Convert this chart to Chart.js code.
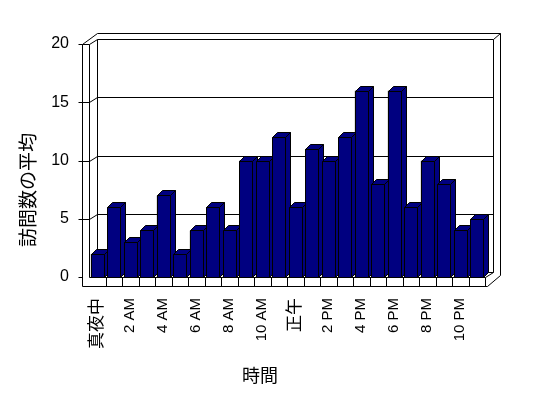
<!DOCTYPE html>
<html>
<head>
<meta charset="utf-8">
<script src="https://cdn.jsdelivr.net/npm/chart.js@4/dist/chart.umd.min.js"></script>
<style>
  body { margin: 0; background: #fff; }
</style>
</head>
<body>
<canvas id="chart_1" width="548" height="398"></canvas>
<script>
// hours of the day, only every other one gets a label
const hourLabels = ['真夜中','','2 AM','','4 AM','','6 AM','','8 AM','','10 AM','',
                    '正午','','2 PM','','4 PM','','6 PM','','8 PM','','10 PM',''];
const visits = [2,6,3,4,7,2,4,6,4,10,10,12,6,11,10,12,16,8,16,6,10,8,4,5];
const yMin = 0, yMax = 20, yStep = 5;
const xTitle = '時間';
const yTitle = '訪問数の平均';

const FONT = '"Liberation Sans", "Noto Sans CJK JP", sans-serif';
const NAVY = '#000080';

// 3d offsets
const D = {x: 8, y: -5};   // front plane -> back wall
const WT = {x: 7, y: -6};  // wall thickness
const BD = {x: 5, y: -5};  // bar depth

function line(ctx, x1, y1, x2, y2) {
    ctx.beginPath();
    ctx.moveTo(Math.round(x1) + 0.5, Math.round(y1) + 0.5);
    ctx.lineTo(Math.round(x2) + 0.5, Math.round(y2) + 0.5);
    ctx.stroke();
}
function poly(ctx, pts) {
    ctx.beginPath();
    pts.forEach((p, i) => i ? ctx.lineTo(p[0], p[1]) : ctx.moveTo(p[0], p[1]));
    ctx.closePath();
    ctx.fill();
    ctx.stroke();
}

const box3d = {
    id: 'box3d',
    beforeDatasetsDraw(chart) {
        const {ctx, chartArea: a, scales: {x, y}} = chart;
        const L = a.left, R = a.right;
        const T = y.getPixelForValue(yMax), B = y.getPixelForValue(yMin);
        const w = x.getPixelForValue(1) - x.getPixelForValue(0);
        ctx.save();
        ctx.strokeStyle = '#000';
        ctx.lineWidth = 1;

        // back wall
        line(ctx, L + D.x, T + D.y, R + D.x, T + D.y);
        line(ctx, L + D.x, T + D.y, L + D.x, B + D.y);
        line(ctx, R + D.x, T + D.y, R + D.x, B + D.y);
        line(ctx, L + D.x, B + D.y, R + D.x, B + D.y);

        // grid lines and ticks
        for (let v = yMin; v <= yMax; v += yStep) {
            const yy = y.getPixelForValue(v);
            line(ctx, L - 11, yy, L - 7, yy);
            if (v > yMin && v < yMax) {
                line(ctx, L - 7, yy, L, yy);
                line(ctx, L, yy, L + D.x, yy + D.y);
                line(ctx, L + D.x, yy + D.y, R + D.x, yy + D.y);
            }
        }

        // left wall
        line(ctx, L - 7, T, L - 7, B + 9);
        line(ctx, L, T, L, B);
        line(ctx, L - 7, T, L, T);
        line(ctx, L, T, L + D.x, T + D.y);
        line(ctx, L - 7, T, L + D.x, T + D.y + WT.y);

        // top + right edge of wall
        line(ctx, L + D.x, T + D.y + WT.y, R + D.x + WT.x, T + D.y + WT.y);
        line(ctx, R + D.x, T + D.y, R + D.x + WT.x, T + D.y + WT.y);
        line(ctx, R + D.x + WT.x, T + D.y + WT.y, R + D.x + WT.x, B + D.y + 3);

        // floor
        line(ctx, L, B, R, B);
        line(ctx, L - 7, B + 9, R + 2, B + 9);
        line(ctx, R, B, R + D.x, B + D.y);
        line(ctx, R + 2, B + 9, R + D.x + WT.x, B + D.y + 3);
        for (let i = 1; i <= hourLabels.length; i++) {
            const xx = L + i * w;
            line(ctx, xx, B, xx, B + 9);
        }
        ctx.restore();
    },
    afterDatasetsDraw(chart) {
        const {ctx} = chart;
        const meta = chart.getDatasetMeta(0);
        ctx.save();
        ctx.strokeStyle = '#000';
        ctx.fillStyle = NAVY;
        ctx.lineWidth = 1;
        meta.data.forEach(bar => {
            const p = bar.getProps(['x', 'y', 'base', 'width'], true);
            const l = Math.round(p.x - p.width / 2) + 0.5;
            const r = Math.round(p.x + p.width / 2) + 0.5;
            const t = Math.round(p.y) + 0.5;
            const b = Math.round(p.base) + 0.5;
            poly(ctx, [[l, t], [l + BD.x, t + BD.y], [r + BD.x, t + BD.y], [r, t]]);
            poly(ctx, [[r, t], [r + BD.x, t + BD.y], [r + BD.x, b + BD.y], [r, b]]);
            poly(ctx, [[l, t], [r, t], [r, b], [l, b]]);
        });
        ctx.restore();
    },
    afterDraw(chart) {
        const {ctx} = chart;
        ctx.save();
        ctx.fillStyle = '#000';
        ctx.textAlign = 'center';
        ctx.textBaseline = 'middle';
        ctx.font = '18px ' + FONT;
        ctx.fillText(xTitle, 260, 377);
        ctx.font = '19px ' + FONT;
        ctx.translate(30, 190);
        ctx.rotate(-Math.PI / 2);
        ctx.fillText(yTitle, 0, 0);
        ctx.restore();
    }
};

var chart1 = new Chart(document.getElementById('chart_1'), {
    type: 'bar',
    data: {
        labels: hourLabels,
        datasets: [
            {
                data: visits,
                backgroundColor: NAVY,
                borderColor: '#000',
                borderWidth: 1,
                barPercentage: 0.8,
                categoryPercentage: 1
            }
        ]
    },
    options: {
        responsive: false,
        animation: false,
        devicePixelRatio: 1,
        layout: {
            padding: {left: 49, top: 44, right: 63, bottom: 21}
        },
        plugins: {
            legend: {display: false},
            tooltip: {enabled: false}
        },
        scales: {
            x: {
                grid: {display: false, drawTicks: false},
                border: {display: false},
                ticks: {
                    autoSkip: false,
                    maxRotation: 90,
                    minRotation: 90,
                    padding: 21,
                    color: '#000',
                    font: (c) => ({family: FONT, size: c.index % 12 === 0 ? 17 : 15})
                },
                afterFit: (s) => { s.height = 100; }
            },
            y: {
                min: yMin,
                max: yMax,
                grid: {display: false, drawTicks: false},
                border: {display: false},
                ticks: {
                    stepSize: yStep,
                    padding: 20,
                    color: '#000',
                    font: {family: FONT, size: 16}
                },
                afterFit: (s) => { s.width = 40; }
            }
        }
    },
    plugins: [box3d]
});
</script>
</body>
</html>
